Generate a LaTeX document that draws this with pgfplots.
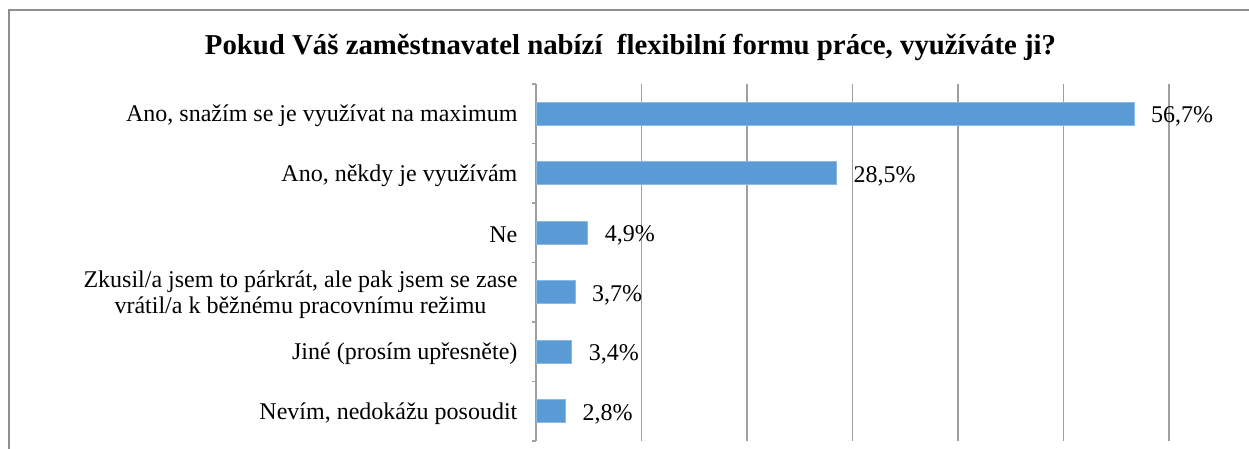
\documentclass[border=0pt]{standalone}
\usepackage{pgfplots}
\pgfplotsset{compat=1.18}
\usepackage{fontspec}
\setmainfont{Liberation Serif}
\definecolor{barblue}{HTML}{5B9BD5}
\definecolor{gridgray}{HTML}{9F9F9F}
\definecolor{framegray}{HTML}{8E8E8E}
\begin{document}
\begin{tikzpicture}
\useasboundingbox (0,0) rectangle (624.5pt,224.5pt);
\clip (0,0) rectangle (624.5pt,224.5pt);
\draw[framegray, line width=0.6pt] (4.5pt,-5pt) -- (4.5pt,219.5pt) -- (640pt,219.5pt);
\node[font=\bfseries\fontsize{14.4}{17}\selectfont] at (315.25pt,201pt) {Pokud Váš zaměstnavatel nabízí\ \ flexibilní formu práce, využíváte ji?};
\begin{axis}[
  at={(268pt,4pt)}, anchor=south west,
  scale only axis, width=316.5pt, height=178.5pt,
  xmin=0, xmax=60, ymin=0.5, ymax=6.5, y dir=reverse,
  xbar, bar width=11.5pt,
  axis lines*=left,
  x axis line style={draw=none},
  y axis line style={gridgray, line width=0.6pt},
  xtick={0,10,...,60}, xticklabels={}, xtick style={draw=none},
  xmajorgrids, major x grid style={gridgray, line width=0.6pt},
  ytick={1,...,6},
  yticklabels={{Ano, snažím se je využívat na maximum},{Ano, někdy je využívám},{Ne},{Zkusil/a jsem to párkrát, ale pak jsem se zase\\vrátil/a k běžnému pracovnímu režimu},{Jiné (prosím upřesněte)},{Nevím, nedokážu posoudit}},
  major y tick style={draw=none},
  minor ytick={0.5,1.5,...,6.5},
  minor y tick style={gridgray, line width=0.6pt},
  minor tick length=2pt,
  tick align=outside,
  yticklabel style={align=center, font=\fontsize{12}{13}\selectfont, xshift=-1.5pt, yshift=-1pt},
  nodes near coords={\pgfmathprintnumber[use comma,fixed,fixed zerofill,precision=1]{\pgfplotspointmeta}\%},
  every node near coord/.append style={font=\fontsize{12}{14}\selectfont, xshift=5pt, yshift=-1.5pt, black},
  /pgf/number format/assume math mode=true,
  clip=false,
]
\addplot[fill=barblue, draw=barblue!70!white, line width=0.4pt] coordinates {
  (56.7,1) (28.5,2) (4.9,3) (3.7,4) (3.4,5) (2.8,6)
};
\end{axis}
\end{tikzpicture}
\end{document}
